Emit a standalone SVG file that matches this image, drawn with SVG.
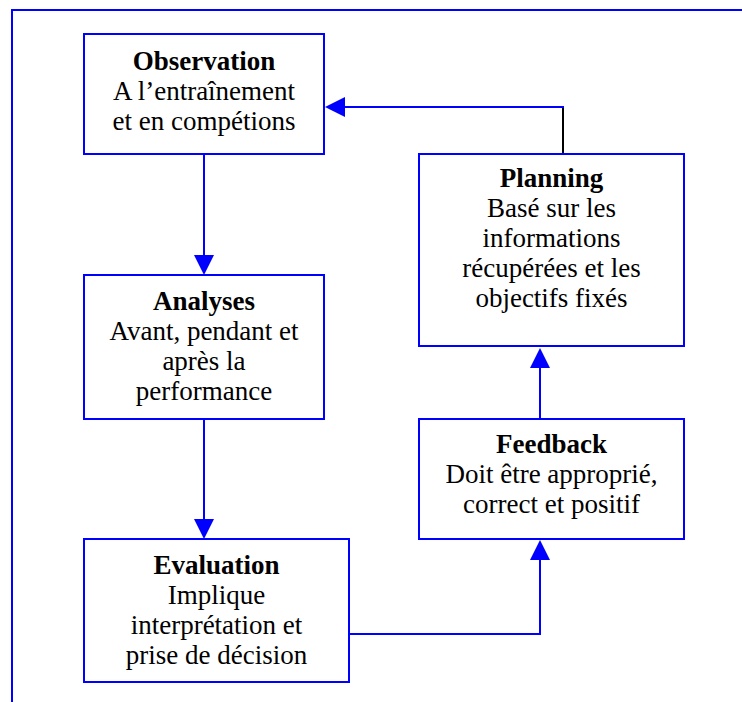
<svg xmlns="http://www.w3.org/2000/svg" width="742" height="702" viewBox="0 0 742 702">
<style>
.box{fill:#fff;stroke:#0000ff;stroke-width:2}
.ln{fill:none;stroke:#0000ff;stroke-width:2}
.ah{fill:#0000ff;stroke:none}
text{font-family:"Liberation Serif","Times New Roman",serif;font-size:27px;fill:#000;text-anchor:middle}
.t{font-weight:bold}
</style>
<rect width="742" height="702" fill="#fff"/>
<g id="frame">
<path d="M12,702 V10 H742" class="ln"/>
</g>
<g id="connectors">
<line x1="204" y1="154" x2="204" y2="256" class="ln"/>
<polygon points="194,255 214,255 204,275" class="ah"/>
<line x1="204" y1="419" x2="204" y2="520" class="ln"/>
<polygon points="194,519 214,519 204,539" class="ah"/>
<polyline points="349,634 540,634 540,559" class="ln"/>
<polygon points="530,560 550,560 540,540" class="ah"/>
<line x1="540" y1="419" x2="540" y2="367" class="ln"/>
<polygon points="530,368 550,368 540,348" class="ah"/>
<line x1="563" y1="154" x2="563" y2="107" stroke="#000" stroke-width="2"/>
<line x1="564" y1="107" x2="344" y2="107" class="ln"/>
<polygon points="345,97 345,117 325,107" class="ah"/>
</g>
<g id="observation">
<rect x="84" y="34" width="240" height="120" class="box"/>
<text x="204" y="70" class="t">Observation</text>
<text x="204" y="100">A l’entraînement</text>
<text x="204" y="130">et en compétions</text>
</g>
<g id="analyses">
<rect x="84" y="275" width="240" height="144" class="box"/>
<text x="204" y="310" class="t">Analyses</text>
<text x="204" y="340">Avant, pendant et</text>
<text x="204" y="370">après la</text>
<text x="204" y="400">performance</text>
</g>
<g id="evaluation">
<rect x="84" y="539" width="265" height="143" class="box"/>
<text x="216.5" y="574" class="t">Evaluation</text>
<text x="216.5" y="604">Implique</text>
<text x="216.5" y="634">interprétation et</text>
<text x="216.5" y="664">prise de décision</text>
</g>
<g id="planning">
<rect x="419" y="154" width="265" height="192" class="box"/>
<text x="551.5" y="187" class="t">Planning</text>
<text x="551.5" y="217">Basé sur les</text>
<text x="551.5" y="247">informations</text>
<text x="551.5" y="277">récupérées et les</text>
<text x="551.5" y="307">objectifs fixés</text>
</g>
<g id="feedback">
<rect x="419" y="419" width="265" height="120" class="box"/>
<text x="551.5" y="453" class="t">Feedback</text>
<text x="551.5" y="483">Doit être approprié,</text>
<text x="551.5" y="513">correct et positif</text>
</g>
</svg>
